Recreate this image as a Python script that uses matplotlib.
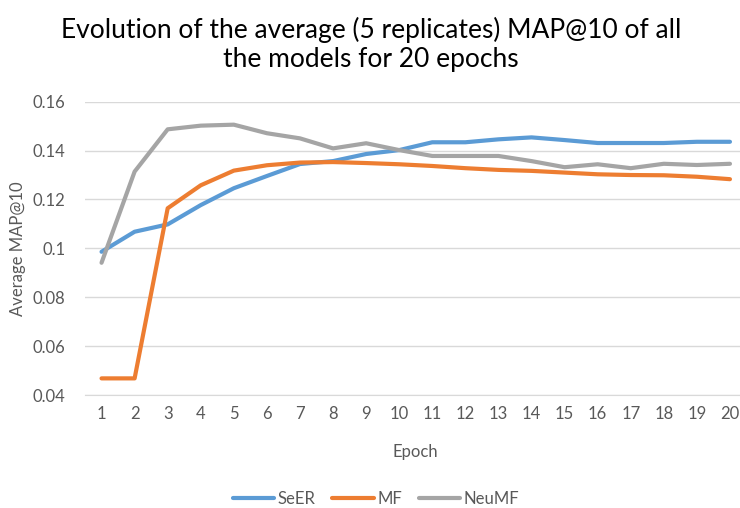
import matplotlib
matplotlib.use("Agg")
import matplotlib.pyplot as plt

epochs = list(range(1, 21))
seer = [0.0986, 0.1068, 0.1098, 0.1177, 0.1246, 0.1296, 0.1345, 0.1357, 0.1386, 0.1402,
        0.1434, 0.1434, 0.1446, 0.1454, 0.1443, 0.1431, 0.1431, 0.1431, 0.1436, 0.1436]
mf = [0.0468, 0.0468, 0.1164, 0.1258, 0.1318, 0.1340, 0.1351, 0.1353, 0.1349, 0.1344,
      0.1337, 0.1328, 0.1321, 0.1317, 0.1310, 0.1303, 0.1300, 0.1299, 0.1293, 0.1283]
neumf = [0.0941, 0.1314, 0.1487, 0.1502, 0.1506, 0.1471, 0.1450, 0.1409, 0.1430, 0.1402,
         0.1378, 0.1378, 0.1378, 0.1357, 0.1332, 0.1344, 0.1328, 0.1346, 0.1341, 0.1346]
yticks = [0.04, 0.06, 0.08, 0.10, 0.12, 0.14, 0.16]
ytick_labels = ["0.04", "0.06", "0.08", "0.1", "0.12", "0.14", "0.16"]

plt.rcParams['font.family'] = ['Lato', 'DejaVu Sans']
W, H = 740, 508
fig = plt.figure(figsize=(W / 100, H / 100), dpi=100)
ax = fig.add_axes([85 / W, (H - 395) / H, (746.5 - 85) / W, (395 - 101.7) / H])

ax.plot(epochs, seer, color='#5B9BD5', lw=3.0, label='SeER', solid_capstyle='round')
ax.plot(epochs, mf, color='#ED7D31', lw=3.0, label='MF', solid_capstyle='round')
ax.plot(epochs, neumf, color='#A5A5A5', lw=3.0, label='NeuMF', solid_capstyle='round')

ax.set_xlim(0.5, 20.5)
ax.set_ylim(0.04, 0.16)
ax.set_yticks(yticks)
ax.set_yticklabels(ytick_labels)
ax.set_xticks(epochs)
ax.grid(axis='y', color='#D9D9D9', lw=1)
ax.set_axisbelow(True)
for s in ['top', 'right', 'left']:
    ax.spines[s].set_visible(False)
ax.spines['bottom'].set_color('#D9D9D9')
ax.tick_params(axis='both', length=0, colors='#595959', labelsize=12)
ax.tick_params(axis='y', pad=14)
ax.tick_params(axis='x', pad=8)
ax.set_xlabel('Epoch', color='#595959', fontsize=12, labelpad=16)
ax.set_ylabel('Average MAP@10', color='#595959', fontsize=12, labelpad=5)

fig.text(371 / W, 1 - 44 / H, 'Evolution of the average (5 replicates) MAP@10 of all\nthe models for 20 epochs',
         ha='center', va='center', fontsize=19, color='#000000', linespacing=1.2)

leg = fig.legend(loc='center', bbox_to_anchor=(376 / W, 1 - 499 / H), ncol=3, frameon=False,
                 fontsize=12, handlelength=2.5, columnspacing=1.0, handletextpad=0.2,
                 labelcolor='#595959', borderpad=0)

fig.savefig('out.png', dpi=100)
